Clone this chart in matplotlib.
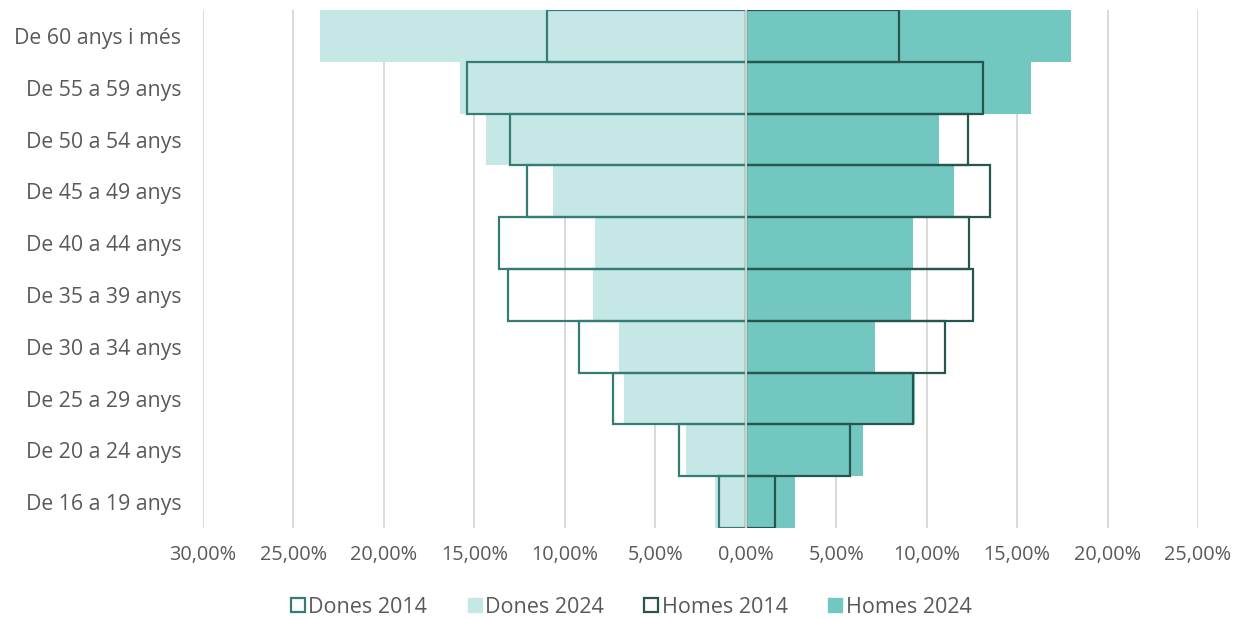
import numpy as np
import matplotlib.pyplot as plt
from matplotlib.patches import Patch
from matplotlib.ticker import FuncFormatter

plt.rcParams['font.family'] = ['Open Sans', 'DejaVu Sans']

ages = ['De 16 a 19 anys', 'De 20 a 24 anys', 'De 25 a 29 anys', 'De 30 a 34 anys',
        'De 35 a 39 anys', 'De 40 a 44 anys', 'De 45 a 49 anys', 'De 50 a 54 anys',
        'De 55 a 59 anys', 'De 60 anys i més']

# percentages per age group (women plotted to the left)
dones_2014 = [1.50, 3.69, 7.36, 9.19, 13.14, 13.62, 12.11, 13.01, 15.39, 10.99]
dones_2024 = [1.70, 3.31, 6.74, 7.00, 8.46, 8.33, 10.67, 14.34, 15.80, 23.55]
homes_2014 = [1.60, 5.79, 9.27, 11.04, 12.57, 12.34, 13.48, 12.28, 13.13, 8.47]
homes_2024 = [2.71, 6.49, 9.35, 7.12, 9.15, 9.22, 11.53, 10.70, 15.76, 17.97]

c_light = '#C5E8E6'
c_teal = '#73C7C1'
c_d14 = '#347C75'
c_h14 = '#25564F'
c_text = '#595959'

fig = plt.figure(figsize=(12.42, 6.19), dpi=100)
ax = fig.add_axes([0.1634, 0.147, 0.8012, 0.8368])

y = np.arange(len(ages))
ax.barh(y, -np.array(dones_2024), height=1.0, color=c_light, zorder=2)
ax.barh(y, homes_2024, height=1.0, color=c_teal, zorder=2)
ax.barh(y, -np.array(dones_2014), height=1.0, fill=False, edgecolor=c_d14,
        linewidth=1.6, zorder=3)
ax.barh(y, homes_2014, height=1.0, fill=False, edgecolor=c_h14,
        linewidth=1.6, zorder=3)

ax.set_xlim(-30, 25)
ax.set_ylim(-0.5, len(ages) - 0.5)
ax.set_xticks(np.arange(-30, 26, 5))
ax.xaxis.set_major_formatter(FuncFormatter(
    lambda v, p: f'{abs(v):.2f}%'.replace('.', ',')))
ax.set_yticks(y)
ax.set_yticklabels(ages)
ax.grid(axis='x', color='#D9D9D9', linewidth=1.4, zorder=1)
ax.axvline(0, color='#D0D0D0', linewidth=1.6, zorder=4)
ax.set_axisbelow(True)
for s in ax.spines.values():
    s.set_visible(False)
ax.tick_params(length=0, labelcolor=c_text)
ax.tick_params(axis='x', pad=12, labelsize=14.3)
ax.tick_params(axis='y', pad=15.5, labelsize=15.3)

handles = [
    Patch(facecolor='white', edgecolor=c_d14, linewidth=1.6, label='Dones 2014'),
    Patch(facecolor=c_light, edgecolor=c_light, label='Dones 2024'),
    Patch(facecolor='white', edgecolor=c_h14, linewidth=1.6, label='Homes 2014'),
    Patch(facecolor=c_teal, edgecolor=c_teal, label='Homes 2024'),
]
fig.legend(handles=handles, loc='center', bbox_to_anchor=(0.508, 0.019), ncol=4,
           frameon=False, fontsize=15.5, labelcolor=c_text, handlelength=0.65,
           handleheight=0.65, handletextpad=0.15, columnspacing=1.9)

fig.savefig('out.png', dpi=100)
